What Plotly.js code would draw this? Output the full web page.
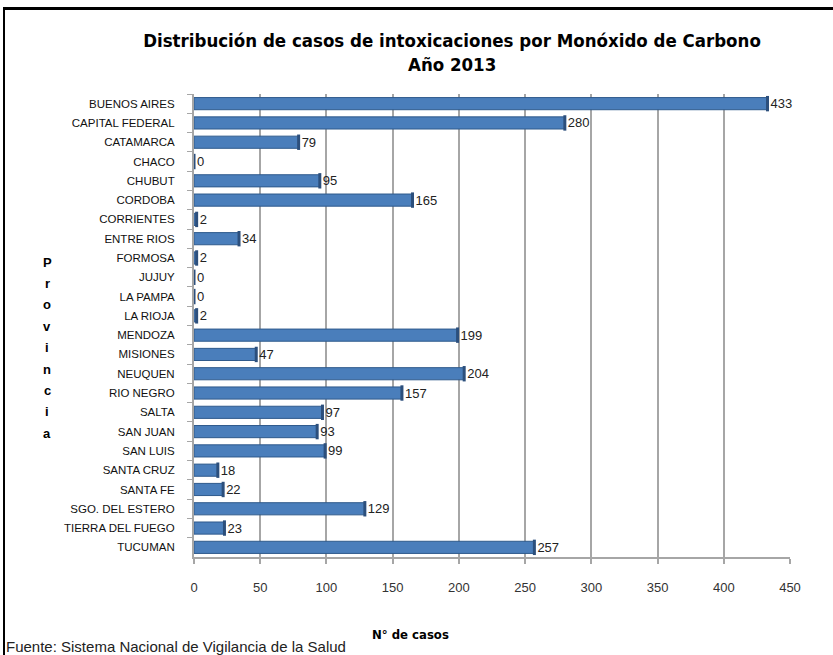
<!DOCTYPE html>
<html>
<head>
<meta charset="utf-8">
<script src="https://cdn.plot.ly/plotly-3.0.1.min.js"></script>
<style>
  html, body { margin: 0; padding: 0; background: #fff; overflow: hidden; }
  #chart { width: 833px; height: 655px; }
  #frame { position: absolute; left: 3px; top: 7px; width: 860px; height: 700px;
           border-top: 3px solid #000; border-left: 2px solid #000; pointer-events: none; }
</style>
</head>
<body>
<div id="chart"></div>
<div id="frame"></div>
<script>
const provincias = ["BUENOS AIRES","CAPITAL FEDERAL","CATAMARCA","CHACO","CHUBUT","CORDOBA",
  "CORRIENTES","ENTRE RIOS","FORMOSA","JUJUY","LA PAMPA","LA RIOJA","MENDOZA","MISIONES",
  "NEUQUEN","RIO NEGRO","SALTA","SAN JUAN","SAN LUIS","SANTA CRUZ","SANTA FE",
  "SGO. DEL ESTERO","TIERRA DEL FUEGO","TUCUMAN"];
const casos = [433,280,79,0,95,165,2,34,2,0,0,2,199,47,204,157,97,93,99,18,22,129,23,257];
const xTicks = [0,50,100,150,200,250,300,350,400,450];
const titulo = "Distribución de casos de intoxicaciones por Monóxido de Carbono";
const subtitulo = "Año 2013";
const tituloX = "N° de casos";
const tituloY = "Provincia";
const fuente = "Fuente: Sistema Nacional de Vigilancia de la Salud";

const narrow = '"Liberation Sans Narrow", "DejaVu Sans Condensed", Arial, sans-serif';
const sans = '"Liberation Sans", Arial, sans-serif';

const bars = {
  type: 'bar', orientation: 'h', x: casos, y: provincias,
  marker: { color: '#4a7ebb', line: { color: '#2f5a8c', width: 1 } },
  text: casos.map(String), textposition: 'outside', cliponaxis: false,
  constraintext: 'none',
  textfont: { family: sans, size: 13, color: '#222' },
  hoverinfo: 'x+y'
};
const caps = {
  type: 'scatter', mode: 'markers', x: casos, y: provincias,
  marker: { symbol: 'line-ns', size: 11, line: { color: '#2c4f7c', width: 3 } },
  cliponaxis: false, hoverinfo: 'skip', showlegend: false
};

const plotTop = 94, plotBottom = 557;
const py = p => 1 - (p - plotTop) / (plotBottom - plotTop);
const px = p => (p - 194) / 596;
const letterAnn = tituloY.split('').map((ch, i) => ({
  text: ch, xref: 'paper', yref: 'paper',
  x: px(47), y: py(262 + i * 21.4),
  xanchor: 'center', yanchor: 'middle', showarrow: false,
  font: { family: sans, size: 13, color: '#000', weight: 'bold' }
}));

const layout = {
  width: 833, height: 655,
  margin: { l: 194, r: 43, t: plotTop, b: 655 - plotBottom },
  paper_bgcolor: '#fff', plot_bgcolor: '#fff',
  showlegend: false, bargap: 0.37,
  title: { text: '<b>' + titulo + '</b>', x: 452 / 833, xanchor: 'center',
           y: 1 - 41 / 655, yanchor: 'middle',
           font: { family: narrow, size: 18.5, color: '#000' } },
  xaxis: {
    range: [0, 450], tickvals: xTicks, ticktext: xTicks.map(String),
    showgrid: true, gridcolor: '#a6a6a6', gridwidth: 2, zeroline: false,
    showline: true, linecolor: '#a6a6a6', linewidth: 2,
    ticks: 'outside', ticklen: 5, tickcolor: '#a6a6a6', tickwidth: 2,
    ticklabelstandoff: 12,
    tickfont: { family: sans, size: 13, color: '#333' }
  },
  yaxis: {
    range: [provincias.length - 0.5, -0.5], type: 'category',
    showline: true, linecolor: '#a6a6a6', linewidth: 2, showgrid: false,
    ticks: 'outside', tickson: 'boundaries', ticklen: 5, tickcolor: '#a6a6a6', tickwidth: 1,
    ticklabelstandoff: 15,
    tickfont: { family: sans, size: 11.5, color: '#111' }
  },
  annotations: [
    { text: '<b>' + subtitulo + '</b>', xref: 'paper', yref: 'paper',
      x: px(452), y: py(64), xanchor: 'center', yanchor: 'middle', showarrow: false,
      font: { family: narrow, size: 18.5, color: '#000' } },
    { text: '<b>' + tituloX + '</b>', xref: 'paper', yref: 'paper',
      x: px(410), y: py(634),
      xanchor: 'center', yanchor: 'middle', showarrow: false,
      font: { family: narrow, size: 13, color: '#000' } },
    { text: fuente, xref: 'paper', yref: 'paper',
      x: px(4), y: py(646),
      xanchor: 'left', yanchor: 'middle', showarrow: false,
      font: { family: sans, size: 15, color: '#222' } }
  ].concat(letterAnn)
};

Plotly.newPlot('chart', [bars, caps], layout, { displayModeBar: false, staticPlot: true });
</script>
</body>
</html>
